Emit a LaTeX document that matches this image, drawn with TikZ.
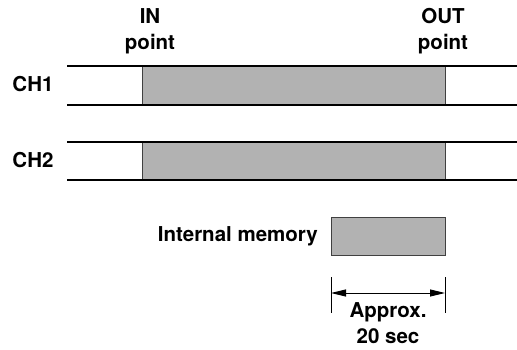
\documentclass[tikz,border=0pt]{standalone}
\usepackage{fontspec}
\setmainfont{TeX Gyre Heros}
\usetikzlibrary{arrows.meta}
\begin{document}
\begin{tikzpicture}[x=1pt,y=-1pt,
  lbl/.style={font=\fontsize{20.5}{26}\selectfont\bfseries, inner sep=0pt, align=center},
  track/.style={line width=1.6pt, black},
  seg/.style={draw=black!75, line width=0.7pt, fill=black!30},
  tick/.style={line width=0.7pt, black},
  dim/.style={line width=0.9pt, {Triangle[length=15pt,width=7pt]}-{Triangle[length=15pt,width=7pt]}}]
\useasboundingbox (0,0) rectangle (517,350);
% channel 1
\draw[seg] (142,66) rectangle (445,105);
\draw[track] (67,66) -- (517,66);
\draw[track] (67,105) -- (517,105);
% channel 2
\draw[seg] (142,142) rectangle (445,180);
\draw[track] (67,142) -- (517,142);
\draw[track] (67,180) -- (517,180);
% memory
\node[seg, minimum width=114pt, minimum height=38pt, inner sep=0pt, anchor=north west] (mem) at (331,217) {};
\node[lbl, anchor=east] (memlbl) at (318,236) {Internal memory};
% labels
\node[lbl] (in) at (150,31) {IN\\point};
\node[lbl] (out) at (443,31) {OUT\\point};
\node[lbl] (ch1) at (33,84) {CH1};
\node[lbl] (ch2) at (33,160) {CH2};
% dimension
\coordinate (t1a) at (331,277); \coordinate (t1b) at (331,313);
\coordinate (t2a) at (445,277); \coordinate (t2b) at (445,313);
\draw[tick] (t1a) -- (t1b);
\draw[tick] (t2a) -- (t2b);
\coordinate (a1) at (331,293); \coordinate (a2) at (445,293);
\draw[dim] (a1) -- (a2);
\node[lbl] (approx) at (388,323) {Approx.\\20 sec};
\end{tikzpicture}
\end{document}
